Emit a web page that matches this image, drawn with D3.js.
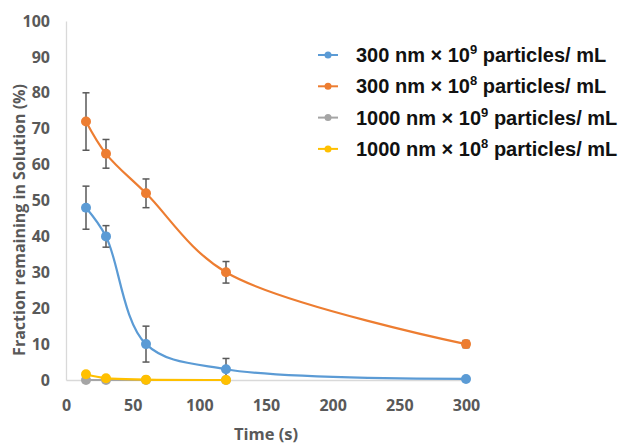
<!DOCTYPE html>
<html>
<head>
<meta charset="utf-8">
<script src="https://cdn.jsdelivr.net/npm/d3@7"></script>
<style>
    body { margin: 0; background: #fff; }
    svg { display: block; }
</style>
</head>
<body>
<svg id="chart-svg" width="637" height="444"></svg>
<script>
    // data
    const TIMES = [15, 30, 60, 120, 300];
    const SERIES_NAMES = [
        ["300 nm × 10", "9", " particles/ mL"],
        ["300 nm × 10", "8", " particles/ mL"],
        ["1000 nm × 10", "9", " particles/ mL"],
        ["1000 nm × 10", "8", " particles/ mL"],
    ];
    const SERIES_COLORS = ["#5b9bd5", "#ed7d31", "#a5a5a5", "#ffc000"];
    const SMALL_HIGH = [48, 40, 10, 3, 0.3];
    const SMALL_LOW = [72, 63, 52, 30, 10];
    const LARGE_HIGH = [0, 0, 0, 0];
    const LARGE_LOW = [1.6, 0.5, 0.1, 0];
    const SMALL_HIGH_ERR = [6, 3, 5, 3, 0];
    const SMALL_LOW_ERR = [8, 4, 4, 3, 1];
    const X_TICKS = [0, 50, 100, 150, 200, 250, 300];
    const Y_TICKS = [0, 10, 20, 30, 40, 50, 60, 70, 80, 90, 100];

    const SERIES_VALUES = [SMALL_HIGH, SMALL_LOW, LARGE_HIGH, LARGE_LOW];
    const SERIES_ERRORS = [SMALL_HIGH_ERR, SMALL_LOW_ERR, null, null];

    const mSvg = d3.select('#chart-svg');
    const AXIS_GRAY = "#d9d9d9";
    const TEXT_GRAY = "#595959";
    const FONT = "'Open Sans', 'DejaVu Sans', sans-serif";

    let x = d3.scaleLinear().domain([0, 300]).range([66, 466]);
    let y = d3.scaleLinear().domain([0, 100]).range([380, 21]);

    // axes: plain lines, no tick marks, bold gray labels
    let xAxis = mSvg.append('g')
        .attr('transform', `translate(0,${y(0)})`)
        .call(d3.axisBottom(x).tickValues(X_TICKS).tickSize(0).tickPadding(20));
    let yAxis = mSvg.append('g')
        .attr('transform', `translate(${x(0)},0)`)
        .call(d3.axisLeft(y).tickValues(Y_TICKS).tickSize(0).tickPadding(16));
    [xAxis, yAxis].forEach(axis => {
        axis.select('.domain').attr('stroke', AXIS_GRAY).attr('stroke-width', 1.3);
        axis.selectAll('text')
            .attr('fill', TEXT_GRAY)
            .style('font-family', FONT)
            .style('font-weight', 700)
            .style('font-size', '16px');
    });

    mSvg.append('text')
        .attr('x', 266).attr('y', 440)
        .attr('text-anchor', 'middle')
        .attr('fill', TEXT_GRAY)
        .style('font-family', FONT).style('font-weight', 700).style('font-size', '16.5px')
        .text('Time (s)');
    mSvg.append('text')
        .attr('transform', 'translate(25,220) rotate(-90)')
        .attr('text-anchor', 'middle')
        .attr('fill', TEXT_GRAY)
        .style('font-family', FONT).style('font-weight', 700).style('font-size', '16px')
        .text('Fraction remaining in Solution (%)');

    let line = d3.line()
        .x(d => x(d[0]))
        .y(d => y(d[1]))
        .curve(d3.curveCatmullRom.alpha(0.5));

    SERIES_VALUES.forEach((values, i) => {
        let points = values.map((v, j) => [TIMES[j], v]);
        let g = mSvg.append('g');
        g.append('path')
            .datum(points)
            .attr('d', line)
            .attr('fill', 'none')
            .attr('stroke', SERIES_COLORS[i])
            .attr('stroke-width', 2.2);
        let errs = SERIES_ERRORS[i];
        if (errs) {
            points.forEach(([t, v], j) => {
                if (!errs[j]) return;
                let eg = g.append('g').attr('stroke', '#595959').attr('stroke-width', 1.5);
                eg.append('line').attr('x1', x(t)).attr('x2', x(t))
                    .attr('y1', y(v - errs[j])).attr('y2', y(v + errs[j]));
                [v - errs[j], v + errs[j]].forEach(e => {
                    eg.append('line').attr('x1', x(t) - 3.5).attr('x2', x(t) + 3.5)
                        .attr('y1', y(e)).attr('y2', y(e));
                });
            });
        }
        g.selectAll('circle')
            .data(points)
            .join('circle')
            .attr('cx', d => x(d[0]))
            .attr('cy', d => y(d[1]))
            .attr('r', 5)
            .attr('fill', SERIES_COLORS[i]);
    });

    // legend
    let legend = mSvg.append('g');
    SERIES_NAMES.forEach((parts, i) => {
        let rowY = 55 + i * 31.3;
        legend.append('line')
            .attr('x1', 318).attr('x2', 338)
            .attr('y1', rowY).attr('y2', rowY)
            .attr('stroke', SERIES_COLORS[i]).attr('stroke-width', 2);
        legend.append('circle')
            .attr('cx', 328).attr('cy', rowY).attr('r', 3.5)
            .attr('fill', SERIES_COLORS[i]);
        let text = legend.append('text')
            .attr('x', 356).attr('y', rowY + 7)
            .attr('fill', '#111')
            .style('font-family', "'Liberation Sans', Arial, sans-serif")
            .style('font-weight', 'bold')
            .style('font-size', '20px');
        text.append('tspan').text(parts[0]);
        text.append('tspan').attr('dy', -8).style('font-size', '13px').text(parts[1]);
        text.append('tspan').attr('dy', 8).text(parts[2]);
    });
</script>
</body>
</html>
